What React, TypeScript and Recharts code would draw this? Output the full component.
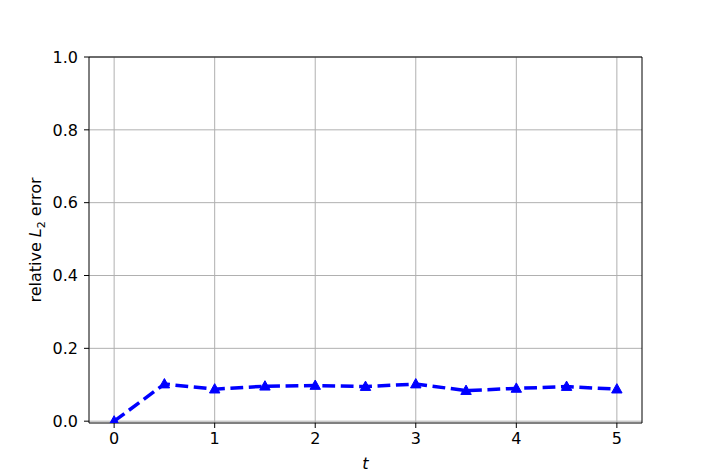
import React from "react";
import { LineChart, Line, XAxis, YAxis, CartesianGrid, ReferenceLine } from "recharts";

const times = [0, 0.5, 1, 1.5, 2, 2.5, 3, 3.5, 4, 4.5, 5];
const errors = [0, 0.102, 0.088, 0.096, 0.098, 0.095, 0.102, 0.084, 0.09, 0.095, 0.088];
const xTicks = [0, 1, 2, 3, 4, 5];
const yTicks = [0, 0.2, 0.4, 0.6, 0.8, 1.0];

const data = times.map((t, i) => ({ t, err: errors[i] }));

const FONT = "DejaVu Sans, sans-serif";

const Triangle = (props: any) => {
  const { cx, cy } = props;
  if (cx == null || cy == null) return null;
  const r = 5.5;
  return (
    <path
      d={`M${cx},${cy - r} L${cx + r * 0.95},${cy + r * 0.7} L${cx - r * 0.95},${cy + r * 0.7} Z`}
      fill="#0000ff"
      stroke="#0000ff"
      strokeWidth={1}
    />
  );
};

const YLabel = (props: any) => {
  const { viewBox } = props;
  const cy = viewBox.y + viewBox.height / 2;
  const x = 41;
  return (
    <text
      x={x}
      y={cy}
      transform={`rotate(-90, ${x}, ${cy})`}
      textAnchor="middle"
      fontFamily={FONT}
      fontSize={16}
      fill="#000"
    >
      relative <tspan fontStyle="italic">L</tspan>
      <tspan fontSize={11} dy={4}>2</tspan>
      <tspan dy={-4}> error</tspan>
    </text>
  );
};

export default function App() {
  return (
    <div style={{ position: "absolute", left: 0, top: 0, width: 714, height: 476, background: "#fff" }}>
      <LineChart width={714} height={476} data={data} margin={{ top: 57, right: 72, bottom: 3, left: 29 }}>
        <CartesianGrid stroke="#b0b0b0" strokeWidth={1} horizontalValues={yTicks} verticalValues={xTicks} />
        <XAxis
          dataKey="t"
          type="number"
          domain={[-0.25, 5.25]}
          ticks={xTicks}
          height={50}
          tickSize={5}
          tickMargin={5}
          stroke="#000"
          tick={{ fill: "#000", fontSize: 16, fontFamily: FONT }}
          tickLine={{ stroke: "#000" }}
          label={{ value: "t", position: "insideBottom", offset: 4, fontStyle: "italic", fontSize: 16, fontFamily: FONT, fill: "#000" }}
        />
        <YAxis
          type="number"
          domain={[-0.005, 1.0]}
          ticks={yTicks}
          width={60}
          tickSize={5}
          tickMargin={6}
          stroke="#000"
          tickFormatter={(v: number) => v.toFixed(1)}
          tick={{ fill: "#000", fontSize: 16, fontFamily: FONT }}
          tickLine={{ stroke: "#000" }}
          allowDataOverflow
          label={<YLabel />}
        />
        <ReferenceLine y={1.0} stroke="#000" strokeWidth={1} />
        <ReferenceLine x={5.25} stroke="#000" strokeWidth={1} />
        <Line
          dataKey="err"
          stroke="#0000ff"
          strokeWidth={3.5}
          strokeDasharray="12.8 5.6"
          dot={<Triangle />}
          activeDot={false}
          isAnimationActive={false}
        />
      </LineChart>
    </div>
  );
}
